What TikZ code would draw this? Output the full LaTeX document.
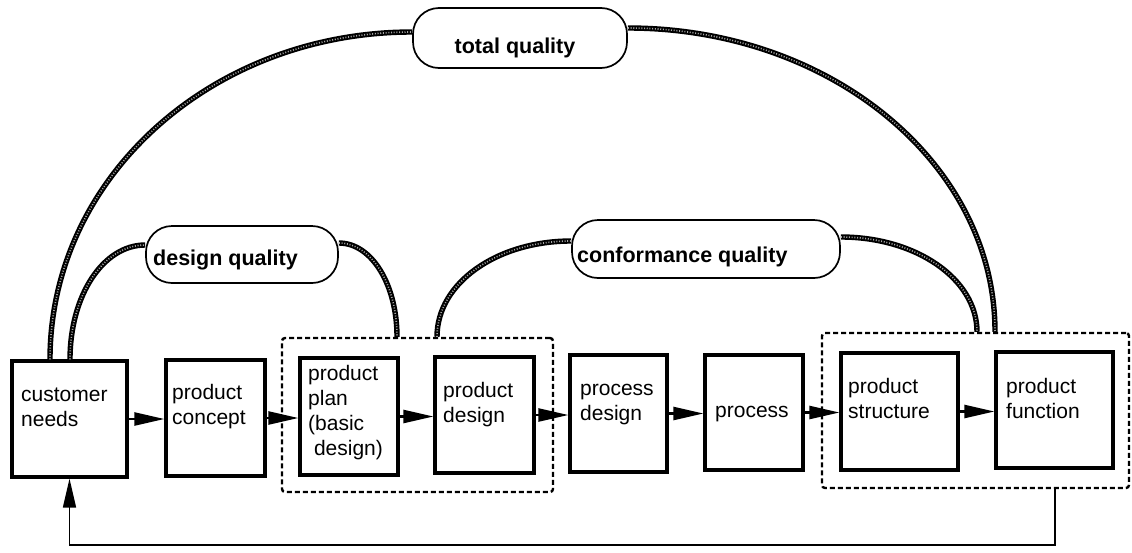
\documentclass[tikz,border=0pt]{standalone}
\usepackage{fontspec}
\setmainfont{Liberation Sans}
\usetikzlibrary{arrows.meta}
\begin{document}
\begin{tikzpicture}[x=1pt,y=-1pt,
  box/.style={draw, line width=3.2pt, inner sep=0pt},
  group/.style={draw, line width=2.4pt, dash pattern=on 5pt off 3pt, rounded corners=3pt, inner sep=0pt},
  pill/.style={draw, line width=1.7pt, rounded corners=26pt, inner sep=0pt},
  txt/.style={font=\fontsize{21}{25}\selectfont, align=left, inner sep=0pt, anchor=base west},
  ptxt/.style={font=\fontsize{21.5}{25}\selectfont\bfseries, inner sep=0pt},
  flow/.style={line width=2.4pt, -{Triangle[length=30pt,width=13pt]}},
  fb/.style={line width=1.6pt, -{Triangle[length=29pt,width=13pt]}},
  bead/.style={preaction={draw, black, line width=5.4pt},
    draw=black!35, line width=1.6pt, dash pattern=on 1pt off 1.7pt}
]
\useasboundingbox (0,0) rectangle (1132,552);

% dashed groups
\node[group, minimum width=271pt, minimum height=154pt] (g1) at (417.5,415) {};
\node[group, minimum width=307pt, minimum height=155pt] (g2) at (975.5,410.5) {};

% process boxes
\node[box, minimum width=115pt, minimum height=116pt] (cn)  at (69.5,419)   {};
\node[box, minimum width=99pt,  minimum height=116pt] (pc)  at (215.5,418)  {};
\node[box, minimum width=98pt,  minimum height=117pt] (pp)  at (349,416.5)  {};
\node[box, minimum width=99pt,  minimum height=116pt] (pd)  at (484.5,415)  {};
\node[box, minimum width=97pt,  minimum height=117pt] (prd) at (618.5,413.5){};
\node[box, minimum width=98pt,  minimum height=115pt] (prc) at (754,412.5)  {};
\node[box, minimum width=117pt, minimum height=117pt] (ps)  at (899.5,411.5){};
\node[box, minimum width=117pt, minimum height=116pt] (pf)  at (1054.5,410) {};

% box texts (positioned by the baseline of their last line)
\node[txt] (cnt)  at (21,426)  {customer\\needs};
\node[txt] (pct)  at (172,424) {product\\concept};
\node[txt] (ppt)  at (308,455) {product\\plan\\(basic\\\ design)};
\node[txt] (pdt)  at (443,422) {product\\design};
\node[txt] (prdt) at (580,420) {process\\design};
\node[txt] (prct) at (715,417) {process};
\node[txt] (pst)  at (848,418) {product\\structure};
\node[txt] (pft)  at (1006,418){product\\function};

% quality labels
\node[pill, minimum width=214pt, minimum height=60pt] (tq) at (520,38)    {};
\node[pill, minimum width=192pt, minimum height=57pt] (dq) at (242,254.5) {};
\node[pill, minimum width=268pt, minimum height=58pt] (cq) at (706,249)   {};
\node[ptxt, anchor=base]      (tqt) at (515,53)  {total quality};
\node[ptxt, anchor=base west] (dqt) at (153,265) {design quality};
\node[ptxt, anchor=base west] (cqt) at (577,262) {conformance quality};

% quality spans
\draw[bead] ([xshift=-19.5pt]cn.north) .. controls +(0,-182) and +(-200,0) .. ([yshift=6pt]tq.west);
\draw[bead] ([yshift=10pt]tq.east) .. controls +(203,0) and +(0,-168) .. ([xshift=19.5pt]g2.north);
\draw[bead] ([xshift=0.5pt]cn.north) .. controls +(0,-64) and +(-42,0) .. ([yshift=9.5pt]dq.west);
\draw[bead] ([yshift=11.5pt]dq.east) .. controls +(33,0) and +(0,-52) .. ([xshift=-20.5pt]g1.north);
\draw[bead] ([xshift=19.5pt]g1.north) .. controls +(0,-54) and +(-74,0) .. ([yshift=8pt]cq.west);
\draw[bead] ([yshift=12pt]cq.east) .. controls +(75,0) and +(0,-53) .. ([xshift=1.5pt]g2.north);

% main flow
\draw[flow] (cn.east)  -- (cn.east -| pc.west);
\draw[flow] (pc.east)  -- (pc.east -| pp.west);
\draw[flow] (pp.east)  -- (pp.east -| pd.west);
\draw[flow] (pd.east)  -- (pd.east -| prd.west);
\draw[flow] (prd.east) -- (prd.east -| prc.west);
\draw[flow] (prc.east) -- (prc.east -| ps.west);
\draw[flow] (ps.east)  -- (ps.east -| pf.west);

% feedback to customer needs
\coordinate (fbturn) at (1055,545);
\draw[fb] (g2.south -| fbturn) -- (fbturn) -| (cn.south);
\end{tikzpicture}
\end{document}
